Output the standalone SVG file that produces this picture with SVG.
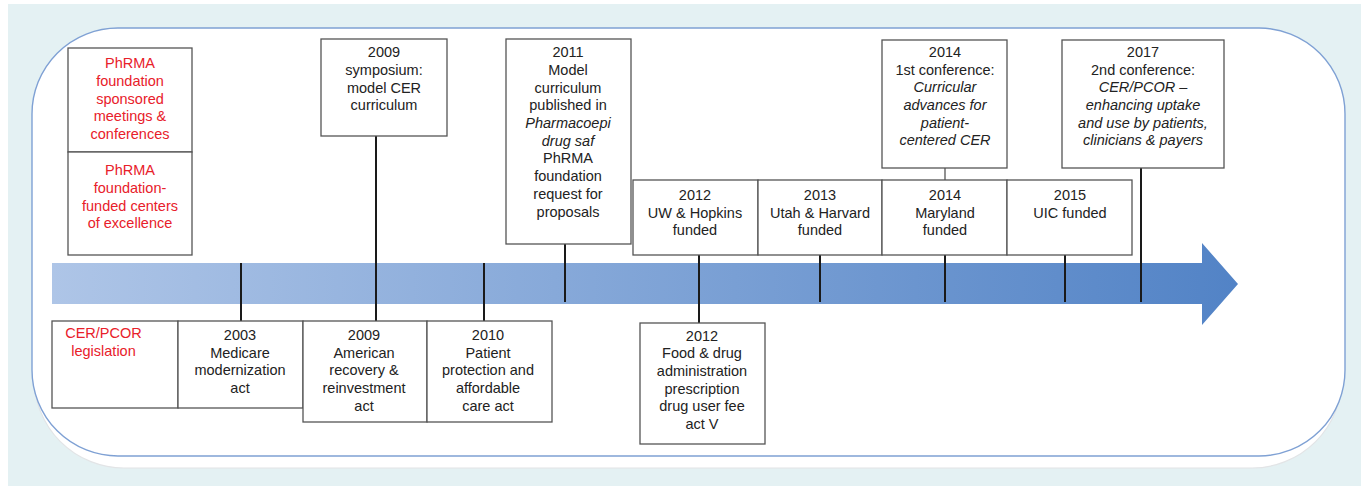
<svg xmlns="http://www.w3.org/2000/svg" width="1366" height="488" viewBox="0 0 1366 488">
<defs>
<linearGradient id="ag" x1="52" y1="0" x2="1238" y2="0" gradientUnits="userSpaceOnUse">
<stop offset="0" stop-color="#aec5e7"/>
<stop offset="1" stop-color="#5283c6"/>
</linearGradient>
<style>
.box{fill:#fff;stroke:#555;stroke-width:1.3}
.t{font-family:"Liberation Sans",Arial,sans-serif;font-size:14.5px;fill:#222;text-anchor:middle}
.r{fill:#e8202a}
.i{font-style:italic}
.tick{stroke:#1a1a1a;stroke-width:2}
.thin{stroke:#555;stroke-width:1.3}
</style>
</defs>
<rect x="0" y="0" width="1366" height="488" fill="#fff"/>
<rect x="8" y="4" width="1353" height="482" fill="#e4f1f3"/>
<rect x="34" y="40" width="1308" height="428" rx="90" fill="#fff" stroke="#e2e4e6" stroke-width="1.2"/>
<rect x="32" y="28" width="1313" height="428" rx="86" fill="#fff" stroke="#7fa1d4" stroke-width="1.4"/>
<g id="timeline">
<path d="M52 263 H1202 V243 L1238 284 L1202 325 V304 H52 Z" fill="url(#ag)"/>
</g>
<g id="connectors">
<line class="tick" x1="241" y1="263" x2="241" y2="321"/>
<line class="tick" x1="376" y1="136" x2="376" y2="321"/>
<line class="tick" x1="484" y1="263" x2="484" y2="321"/>
<line class="tick" x1="565" y1="244" x2="565" y2="302"/>
<line class="tick" x1="699" y1="255" x2="699" y2="323"/>
<line class="tick" x1="820" y1="255" x2="820" y2="302"/>
<line class="tick" x1="945" y1="255" x2="945" y2="302"/>
<line class="tick" x1="1065" y1="255" x2="1065" y2="302"/>
<line class="tick" x1="1141" y1="168" x2="1141" y2="302"/>
<line class="thin" x1="945" y1="168" x2="945" y2="180"/>
</g>
<g id="legend-meetings">
<rect class="box" x="68" y="48" width="124" height="104"/>
<text class="t r"><tspan x="130" y="68">PhRMA</tspan><tspan x="130" y="86">foundation</tspan><tspan x="130" y="103.5">sponsored</tspan><tspan x="130" y="121">meetings &amp;</tspan><tspan x="130" y="139">conferences</tspan></text>
</g>
<g id="legend-centers">
<rect class="box" x="68" y="152" width="124" height="103"/>
<text class="t r"><tspan x="130" y="175">PhRMA</tspan><tspan x="130" y="193">foundation-</tspan><tspan x="130" y="210.5">funded centers</tspan><tspan x="130" y="228">of excellence</tspan></text>
</g>
<g id="n2009sym">
<rect class="box" x="321" y="39" width="126" height="97"/>
<text class="t"><tspan x="384" y="57">2009</tspan><tspan x="384" y="75">symposium:</tspan><tspan x="384" y="92.5">model CER</tspan><tspan x="384" y="110">curriculum</tspan></text>
</g>
<g id="n2011">
<rect class="box" x="506" y="39" width="125" height="205"/>
<text class="t"><tspan x="568" y="57">2011</tspan><tspan x="568" y="75">Model</tspan><tspan x="568" y="92.5">curriculum</tspan><tspan x="568" y="110">published in</tspan><tspan x="568" y="128" class="i">Pharmacoepi</tspan><tspan x="568" y="146" class="i">drug saf</tspan><tspan x="568" y="163">PhRMA</tspan><tspan x="568" y="181">foundation</tspan><tspan x="568" y="199">request for</tspan><tspan x="568" y="217">proposals</tspan></text>
</g>
<g id="n2012uw">
<rect class="box" x="633" y="180" width="125" height="75"/>
<text class="t"><tspan x="695" y="200">2012</tspan><tspan x="695" y="218">UW &amp; Hopkins</tspan><tspan x="695" y="235">funded</tspan></text>
</g>
<g id="n2013">
<rect class="box" x="758" y="180" width="124" height="75"/>
<text class="t"><tspan x="820" y="200">2013</tspan><tspan x="820" y="218">Utah &amp; Harvard</tspan><tspan x="820" y="235">funded</tspan></text>
</g>
<g id="n2014md">
<rect class="box" x="882" y="180" width="125" height="75"/>
<text class="t"><tspan x="945" y="200">2014</tspan><tspan x="945" y="218">Maryland</tspan><tspan x="945" y="235">funded</tspan></text>
</g>
<g id="n2015">
<rect class="box" x="1007" y="180" width="125" height="75"/>
<text class="t"><tspan x="1070" y="200">2015</tspan><tspan x="1070" y="218">UIC funded</tspan></text>
</g>
<g id="n2014conf">
<rect class="box" x="882" y="40" width="125" height="128"/>
<text class="t"><tspan x="945" y="57">2014</tspan><tspan x="945" y="75">1st conference:</tspan><tspan x="945" y="92" class="i">Curricular</tspan><tspan x="945" y="110" class="i">advances for</tspan><tspan x="945" y="128" class="i">patient-</tspan><tspan x="945" y="145" class="i">centered CER</tspan></text>
</g>
<g id="n2017">
<rect class="box" x="1062" y="40" width="162" height="128"/>
<text class="t"><tspan x="1143" y="57">2017</tspan><tspan x="1143" y="75">2nd conference:</tspan><tspan x="1143" y="92" class="i">CER/PCOR –</tspan><tspan x="1143" y="110" class="i">enhancing uptake</tspan><tspan x="1143" y="128" class="i">and use by patients,</tspan><tspan x="1143" y="145" class="i">clinicians &amp; payers</tspan></text>
</g>
<g id="legend-legislation">
<rect class="box" x="52" y="321" width="126" height="87"/>
<text class="t r"><tspan x="103.5" y="338">CER/PCOR</tspan><tspan x="103.5" y="356">legislation</tspan></text>
</g>
<g id="n2003">
<rect class="box" x="178" y="321" width="125" height="87"/>
<text class="t"><tspan x="240" y="340">2003</tspan><tspan x="240" y="358">Medicare</tspan><tspan x="240" y="375">modernization</tspan><tspan x="240" y="393">act</tspan></text>
</g>
<g id="n2009arra">
<rect class="box" x="303" y="321" width="124" height="101"/>
<text class="t"><tspan x="364" y="340">2009</tspan><tspan x="364" y="358">American</tspan><tspan x="364" y="375">recovery &amp;</tspan><tspan x="364" y="393">reinvestment</tspan><tspan x="364" y="411">act</tspan></text>
</g>
<g id="n2010">
<rect class="box" x="427" y="321" width="125" height="101"/>
<text class="t"><tspan x="488" y="340">2010</tspan><tspan x="488" y="358">Patient</tspan><tspan x="488" y="375">protection and</tspan><tspan x="488" y="393">affordable</tspan><tspan x="488" y="411">care act</tspan></text>
</g>
<g id="n2012fda">
<rect class="box" x="640" y="323" width="125" height="121"/>
<text class="t"><tspan x="702" y="341">2012</tspan><tspan x="702" y="358">Food &amp; drug</tspan><tspan x="702" y="376">administration</tspan><tspan x="702" y="394">prescription</tspan><tspan x="702" y="411">drug user fee</tspan><tspan x="702" y="429">act V</tspan></text>
</g>
</svg>
